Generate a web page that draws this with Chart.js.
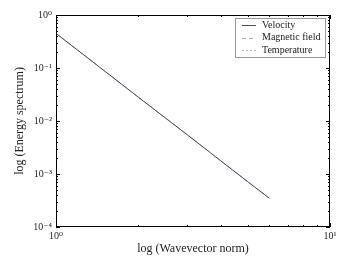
<!DOCTYPE html>
<html><head><meta charset="utf-8">
<script src="https://cdn.jsdelivr.net/npm/chart.js@4"></script>
<style>html,body{margin:0;padding:0;background:#fff}#wrap{width:354px;height:266px}</style>
</head><body><div id="wrap"><canvas id="c" width="354" height="266"></canvas></div>
<script>
const wavevector = [1, 2, 3, 4, 5, 6];
const velocity = [0.45, 0.028, 0.0056, 0.00176, 0.00072, 0.00035];
const magnetic = [0.45, 0.028, 0.0056, 0.00176, 0.00072, 0.00035];
const temperature = [0.45, 0.028, 0.0056, 0.00176, 0.00072, 0.00035];
const seriesNames = ['Velocity', 'Magnetic field', 'Temperature'];
const xTickLabels = {1: '10⁰', 10: '10¹'};
const yTickLabels = {1: '10⁰', 0.1: '10⁻¹', 0.01: '10⁻²', 0.001: '10⁻³', 0.0001: '10⁻⁴'};
const SERIF = '"Liberation Serif", "DejaVu Serif", serif';

function pts(ys){ return wavevector.map((x,i)=>({x:x, y:ys[i]})); }
function logTicks(min, max){
  const out=[];
  for(let e=Math.round(Math.log10(min)); e<Math.round(Math.log10(max)); e++){
    for(let m=1;m<10;m++) out.push({value: m*Math.pow(10,e)});
  }
  out.push({value:max});
  return out;
}
function isMajor(v){ const l=Math.log10(v); return Math.abs(l-Math.round(l))<1e-9; }
function labelFor(map, v){
  for(const k in map){ if(Math.abs(Math.log10(+k)-Math.log10(v))<1e-9) return map[k]; }
  return '';
}

const tickPlugin = {
  id:'inwardTicks',
  afterDatasetsDraw(chart){
    const {ctx, chartArea:a, scales:{x,y}} = chart;
    ctx.save();
    ctx.strokeStyle='#000'; ctx.lineWidth=1;
    ctx.beginPath();
    x.ticks.forEach(t=>{
      const px=Math.round(x.getPixelForValue(t.value))+0.5;
      const L=isMajor(t.value)?4:2;
      ctx.moveTo(px,a.bottom); ctx.lineTo(px,a.bottom-L);
      ctx.moveTo(px,a.top); ctx.lineTo(px,a.top+L);
    });
    y.ticks.forEach(t=>{
      const py=Math.round(y.getPixelForValue(t.value))+0.5;
      const L=isMajor(t.value)?4:2;
      ctx.moveTo(a.left,py); ctx.lineTo(a.left+L,py);
      ctx.moveTo(a.right,py); ctx.lineTo(a.right-L,py);
    });
    ctx.stroke();
    ctx.lineWidth=1;
    ctx.strokeRect(Math.round(a.left)+0.5, Math.round(a.top)+0.5, Math.round(a.right-a.left)-1, Math.round(a.bottom-a.top)-1);
    // legend
    const bx=235, by=18, bw=90, bh=39;
    ctx.fillStyle='#fff'; ctx.fillRect(bx,by,bw,bh);
    ctx.strokeStyle='#999'; ctx.strokeRect(bx+0.5,by+0.5,bw,bh);
    ctx.font='10px '+SERIF; ctx.textBaseline='middle'; ctx.textAlign='left';
    chart.data.datasets.forEach((ds,i)=>{
      const yy=by+7+i*12.5;
      ctx.strokeStyle=ds.borderColor; ctx.lineWidth=1;
      ctx.setLineDash(ds.borderDash||[]);
      ctx.beginPath(); ctx.moveTo(bx+7,Math.round(yy)+0.5); ctx.lineTo(bx+21,Math.round(yy)+0.5); ctx.stroke();
      ctx.setLineDash([]);
      ctx.fillStyle='#222'; ctx.fillText(ds.label, bx+27, yy);
    });
    ctx.restore();
  }
};

new Chart(document.getElementById('c'), {
  type:'line',
  data:{datasets:[
    {label:seriesNames[0], data:pts(velocity), borderColor:'#4d4d5c', borderWidth:1, pointRadius:0, fill:false, tension:0},
    {label:seriesNames[1], data:pts(magnetic), borderColor:'#aaaaaa', borderDash:[4,3], borderWidth:1, pointRadius:0, fill:false, tension:0},
    {label:seriesNames[2], data:pts(temperature), borderColor:'#bbbbbb', borderDash:[2,2], borderWidth:1, pointRadius:0, fill:false, tension:0}
  ]},
  options:{
    responsive:false, animation:false, devicePixelRatio:1,
    layout:{padding:{top:15,right:24,left:0,bottom:0}},
    plugins:{legend:{display:false}, tooltip:{enabled:false}},
    scales:{
      x:{type:'logarithmic', min:1, max:10,
        afterBuildTicks(s){ s.ticks=logTicks(1,10); },
        afterFit(s){ s.height=39; },
        grid:{display:false, drawTicks:false}, border:{display:false},
        ticks:{autoSkip:false, maxRotation:0, padding:3, color:'#222', font:{family:SERIF,size:10},
          callback:(v)=>labelFor(xTickLabels,v)},
        title:{display:true, text:'log (Wavevector norm)', color:'#222', font:{family:SERIF,size:12}, padding:{top:0,bottom:10}}
      },
      y:{type:'logarithmic', min:0.0001, max:1,
        afterBuildTicks(s){ s.ticks=logTicks(0.0001,1); },
        afterFit(s){ s.width=56; },
        grid:{display:false, drawTicks:false}, border:{display:false},
        ticks:{autoSkip:false, padding:4, color:'#222', font:{family:SERIF,size:10},
          callback:(v)=>labelFor(yTickLabels,v)},
        title:{display:true, text:'log (Energy spectrum)', color:'#222', font:{family:SERIF,size:12}, padding:{top:13,bottom:0}}
      }
    }
  },
  plugins:[tickPlugin]
});
</script></body></html>
